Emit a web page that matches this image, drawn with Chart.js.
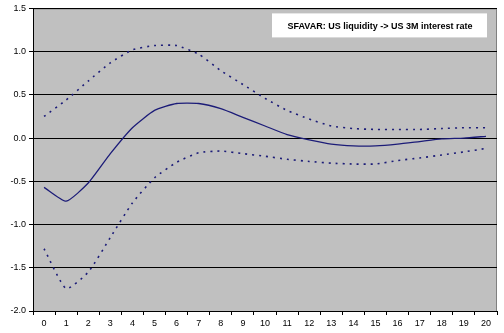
<!DOCTYPE html>
<html>
<head>
<meta charset="utf-8">
<script src="https://cdn.jsdelivr.net/npm/chart.js@4"></script>
<style>
  html, body { margin: 0; padding: 0; background: #ffffff; }
  #wrap { width: 504px; height: 333px; }
</style>
</head>
<body>
<div id="wrap"><canvas id="grafico" width="504" height="333"></canvas></div>
<script>
var horizontes = ['0','1','2','3','4','5','6','7','8','9','10','11','12','13','14','15','16','17','18','19','20'];
var resposta = [-0.57, -0.73, -0.52, -0.18, 0.12, 0.32, 0.40, 0.40, 0.34, 0.24, 0.14, 0.04, -0.02, -0.07, -0.09, -0.09, -0.07, -0.04, -0.01, 0.00, 0.02];
var bandaSuperior = [0.25, 0.44, 0.66, 0.87, 1.02, 1.07, 1.07, 0.97, 0.78, 0.62, 0.46, 0.32, 0.22, 0.14, 0.11, 0.10, 0.10, 0.10, 0.11, 0.12, 0.12];
var bandaInferior = [-1.28, -1.74, -1.55, -1.15, -0.75, -0.46, -0.28, -0.17, -0.15, -0.18, -0.21, -0.245, -0.27, -0.29, -0.30, -0.30, -0.26, -0.23, -0.195, -0.16, -0.12];
var rotulosY = [-2.0, -1.5, -1.0, -0.5, 0.0, 0.5, 1.0, 1.5];
var legenda = 'SFAVAR: US liquidity -> US 3M interest rate';

document.addEventListener('DOMContentLoaded', function () {
    var azul = '#1c1c78';

    // gray plot area with a thin frame
    var fundo = {
        id: 'fundo',
        beforeDraw: function (chart) {
            var a = chart.chartArea, c = chart.ctx;
            c.save();
            c.fillStyle = '#c0c0c0';
            c.fillRect(a.left, a.top, a.right - a.left, a.bottom - a.top);
            c.strokeStyle = '#808080';
            c.lineWidth = 1;
            c.strokeRect(a.left + 0.5, a.top + 0.5, a.right - a.left - 1, a.bottom - a.top);
            c.restore();
        }
    };

    // white box with the series name, top right
    var caixa = {
        id: 'caixa',
        afterDraw: function (chart) {
            var a = chart.chartArea, c = chart.ctx;
            c.save();
            c.fillStyle = '#ffffff';
            c.fillRect(a.right - 225, a.top + 5, 215, 24);
            c.fillStyle = '#000000';
            c.font = 'bold 9px "Liberation Sans", Arial, sans-serif';
            c.textAlign = 'center';
            c.textBaseline = 'middle';
            c.fillText(legenda, a.right - 225 + 108, a.top + 18);
            c.restore();
        }
    };

    var ctx = document.getElementById('grafico').getContext('2d');
    new Chart(ctx, {
        type: 'line',
        data: {
            labels: horizontes,
            datasets: [
                { data: resposta, borderColor: azul, borderWidth: 1.3, pointRadius: 0, tension: 0.18, fill: false },
                { data: bandaSuperior, borderColor: azul, borderWidth: 1.6, borderDash: [2, 5], pointRadius: 0, tension: 0.18, fill: false },
                { data: bandaInferior, borderColor: azul, borderWidth: 1.6, borderDash: [2, 5], pointRadius: 0, tension: 0.18, fill: false }
            ]
        },
        options: {
            responsive: false,
            animation: false,
            layout: { padding: { top: 7, right: 7, left: 0, bottom: 0 } },
            plugins: { legend: { display: false }, tooltip: { enabled: false } },
            scales: {
                x: {
                    offset: true,
                    grid: { offset: true, drawOnChartArea: false, drawTicks: true, tickLength: 4, color: '#000000' },
                    border: { color: '#000000', width: 1 },
                    ticks: { color: '#000000', font: { family: '"Liberation Sans", Arial, sans-serif', size: 9 }, maxRotation: 0, autoSkip: false, padding: 3 },
                    afterFit: function (s) { s.height = 22; }
                },
                y: {
                    min: rotulosY[0],
                    max: rotulosY[rotulosY.length - 1],
                    afterBuildTicks: function (s) { s.ticks = rotulosY.map(function (v) { return { value: v }; }); },
                    grid: { color: '#000000', lineWidth: 1, drawTicks: true, tickLength: 4 },
                    border: { color: '#000000', width: 1 },
                    ticks: {
                        color: '#000000',
                        font: { family: '"Liberation Sans", Arial, sans-serif', size: 9 },
                        padding: 3,
                        callback: function (v) { return Number(v).toFixed(1); }
                    },
                    afterFit: function (s) { s.width = 33; }
                }
            }
        },
        plugins: [fundo, caixa]
    });
});
</script>
</body>
</html>
